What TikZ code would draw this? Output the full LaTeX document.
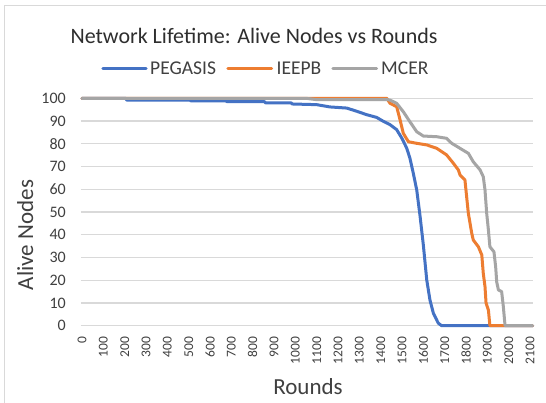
\documentclass[tikz,border=0pt]{standalone}
\usepackage{fontspec}
\setmainfont{Carlito}
\definecolor{serA}{HTML}{4472C4}
\definecolor{serB}{HTML}{ED7D31}
\definecolor{serC}{HTML}{A5A5A5}
\definecolor{gridc}{HTML}{D9D9D9}
\definecolor{txt}{HTML}{404040}
\definecolor{ttl}{HTML}{2E2E2E}
\tikzset{
  gridline/.style={draw=gridc, line width=1.3pt},
  series/.style={line width=3pt, line join=round, line cap=round},
  legline/.style={line width=3.4pt, line cap=round},
  ticky/.style={anchor=east, inner sep=0pt, text=txt, font=\fontsize{16}{16}\selectfont},
  tickx/.style={rotate=90, anchor=east, inner sep=0pt, text=txt, font=\fontsize{13.5}{13.5}\selectfont},
  legtext/.style={anchor=west, inner sep=0pt, text=txt, font=\fontsize{19.5}{19.5}\selectfont},
  axtitle/.style={anchor=base, inner sep=0pt, text=txt, font=\fontsize{23}{23}\selectfont},
}
\begin{document}
\begin{tikzpicture}[x=1pt,y=1pt]
\useasboundingbox (0,0) rectangle (546,403);
\fill[white] (0,0) rectangle (546,403);
% chart frame
\draw[gridc, line width=1pt] (4,0) -- (4,397) -- (546,397);

% title
\node[anchor=base, inner sep=0pt, text=ttl, font=\fontsize{22}{22}\selectfont] (title) at (254,359) {Network Lifetime: Alive Nodes vs Rounds};

% legend
\coordinate (la1) at (103,334.7); \coordinate (la2) at (146,334.7);
\coordinate (lb1) at (228,334.7); \coordinate (lb2) at (271.5,334.7);
\coordinate (lc1) at (333,334.7); \coordinate (lc2) at (376.5,334.7);
\draw[legline, serA] (la1) -- (la2);
\draw[legline, serB] (lb1) -- (lb2);
\draw[legline, serC] (lc1) -- (lc2);
\node[legtext] (lga) at (150,334.4) {PEGASIS};
\node[legtext] (lgb) at (276.5,334.4) {IEEPB};
\node[legtext] (lgc) at (381,334.4) {MCER};

% axis titles
\node[axtitle, rotate=90] (ytitle) at (33,168) {Alive Nodes};
\node[axtitle] (xtitle) at (308,8) {Rounds};

% plot area in data units: rounds horizontally, nodes vertically
\begin{scope}[shift={(82,77.3)}, x=0.213333pt, y=2.274pt]
  \foreach \v in {0,10,...,100} {
    \draw[gridline] (-5,\v) -- (2114,\v);
    \node[ticky] at (-75,\v) {\v};
  }
  \foreach \r in {0,100,...,2100} {
    \node[tickx] at (\r,-4.9) {\r};
  }
  % PEGASIS
  \draw[series, serA] plot coordinates {
    (0,100) (205,100) (210,99.2) (505,99.2) (510,98.9) (675,98.9) (680,98.5)
    (855,98.5) (860,98.0) (980,98.0) (985,97.5) (1100,97.2) (1162,96.2)
    (1241,95.7) (1288,94.3) (1334,92.8) (1381,91.6) (1412,89.9) (1444,88.4)
    (1475,86.2) (1499,82.5) (1522,78.1) (1537,73.7) (1553,67.0) (1569,59.7)
    (1584,48.7) (1600,35.5) (1616,20.1) (1631,11.3) (1647,5.5) (1670,1.1)
    (1686,0) (2112,0)};
  % IEEPB
  \draw[series, serB] plot coordinates {
    (0,100) (1428,100) (1444,97.8) (1475,96.3) (1491,90.5) (1506,84.6)
    (1530,80.9) (1569,80.2) (1616,79.5) (1663,78.0) (1709,75.1) (1741,71.4)
    (1764,68.5) (1772,66.3) (1795,64.1) (1803,56.7) (1811,49.4) (1819,45.0)
    (1827,40.6) (1834,37.7) (1858,34.7) (1874,31.1) (1881,23.0) (1889,17.2)
    (1894,9.9) (1905,6.9) (1912,0) (2112,0)};
  % MCER
  \draw[series, serC] plot coordinates {
    (0,100) (1050,100) (1100,99.4) (1430,99.4) (1444,99.2) (1475,97.8)
    (1506,94.1) (1537,89.7) (1569,85.3) (1600,83.4) (1663,83.1) (1709,82.4)
    (1733,80.2) (1772,78.0) (1811,75.8) (1834,72.1) (1866,68.5) (1881,65.5)
    (1889,59.7) (1897,49.4) (1905,42.1) (1912,34.7) (1931,32.5) (1939,25.9)
    (1944,19.2) (1952,15.7) (1967,15.0) (1975,8.4) (1983,0) (2112,0)};
\end{scope}
\end{tikzpicture}
\end{document}
